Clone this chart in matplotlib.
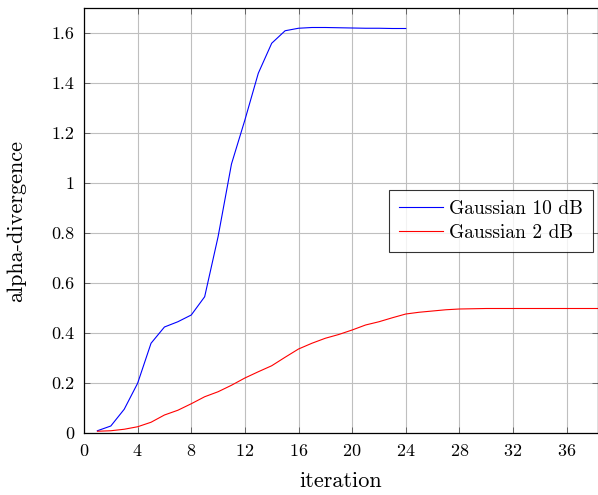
import numpy as np
import matplotlib
matplotlib.use('Agg')
import matplotlib.pyplot as plt
from matplotlib.ticker import FuncFormatter

plt.rcParams['font.family'] = 'serif'
plt.rcParams['font.serif'] = ['cmr10', 'DejaVu Serif']
plt.rcParams['axes.formatter.use_mathtext'] = True
plt.rcParams['mathtext.fontset'] = 'cm'

# data
it_10db = list(range(1, 25))
div_10db = [0.009, 0.028, 0.095, 0.199, 0.359, 0.424, 0.445, 0.472, 0.545, 0.785,
            1.076, 1.252, 1.439, 1.559, 1.609, 1.619, 1.622, 1.622, 1.621, 1.620,
            1.619, 1.619, 1.618, 1.618]

it_2db = list(range(1, 41))
div_2db = [0.007, 0.009, 0.015, 0.025, 0.043, 0.072, 0.091, 0.117, 0.145, 0.165,
           0.191, 0.220, 0.245, 0.269, 0.303, 0.336, 0.359, 0.379, 0.394, 0.412,
           0.432, 0.445, 0.461, 0.476, 0.483, 0.488, 0.493, 0.496, 0.497, 0.498,
           0.498, 0.498, 0.498, 0.498, 0.498, 0.498, 0.498, 0.498, 0.498, 0.498]

xticks = list(range(0, 37, 4))
yticks = [0, 0.2, 0.4, 0.6, 0.8, 1.0, 1.2, 1.4, 1.6]

fig = plt.figure(figsize=(5.98, 4.95), dpi=100)
ax = fig.add_axes([84 / 598, 62 / 495, 513.5 / 598, 425 / 495])

ax.plot(it_10db, div_10db, color='blue', lw=0.8, label='Gaussian 10 dB')
ax.plot(it_2db, div_2db, color='red', lw=0.8, label='Gaussian 2 dB')

ax.set_xlim(0, 38.3)
ax.set_ylim(0, 1.7)
ax.set_xticks(xticks)
ax.set_yticks(yticks)
ax.yaxis.set_major_formatter(FuncFormatter(lambda v, p: '%g' % v))
ax.grid(True, color='#bfbfbf', lw=0.8)
ax.set_axisbelow(True)
ax.tick_params(direction='in', length=4, width=0.6, color='#555555',
               top=True, right=True, labelsize=13, pad=7)
for s in ax.spines.values():
    s.set_linewidth(0.9)

ax.set_xlabel('iteration', fontsize=16, labelpad=9)
ax.set_ylabel('alpha-divergence', fontsize=16, labelpad=18)

leg = ax.legend(loc='center right', bbox_to_anchor=(0.991, 0.499), fontsize=14,
                frameon=True, fancybox=False, edgecolor='black',
                handlelength=2.3, handletextpad=0.3, borderpad=0.5,
                labelspacing=0.35, borderaxespad=0)
leg.get_frame().set_linewidth(0.8)

fig.savefig('out.png', dpi=100)
